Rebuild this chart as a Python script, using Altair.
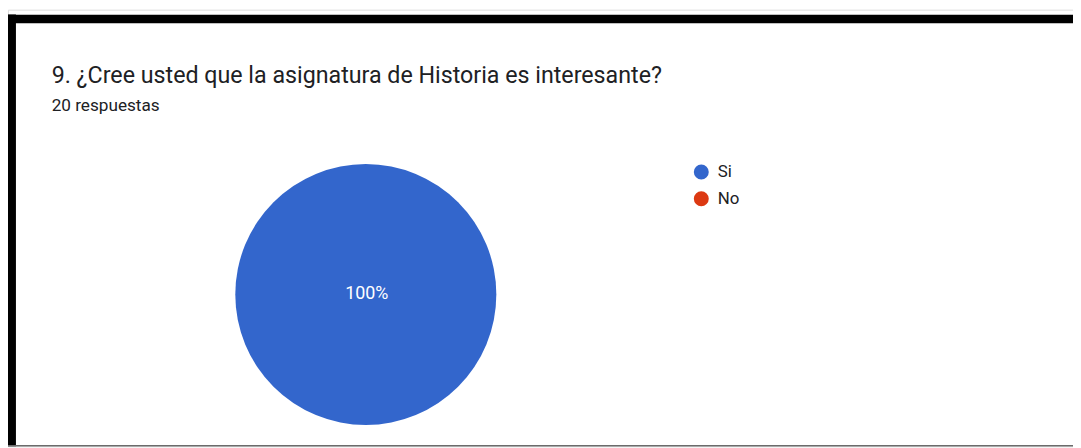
import altair as alt
import pandas as pd

categories = ["Si", "No"]
counts = [20, 0]
colors = ["#3366CC", "#DC3912"]
title_text = "9. ¿Cree usted que la asignatura de Historia es interesante?"
subtitle_text = "20 respuestas"

W, H = 1073, 440
CX, CY, R = 360.5, 287, 131.5

df = pd.DataFrame({"cat": categories, "n": counts})

base = alt.Chart(df)

pie = base.mark_arc(outerRadius=R).encode(
    theta=alt.Theta("n:Q", stack=True),
    color=alt.Color(
        "cat:N",
        scale=alt.Scale(domain=categories, range=colors),
        sort=categories,
        legend=alt.Legend(
            title=None,
            orient="none",
            legendX=690,
            legendY=155,
            symbolType="circle",
            symbolSize=227,
            symbolStrokeWidth=0,
            labelFont="Roboto",
            labelFontSize=17,
            labelColor="#202124",
            labelOffset=8,
            rowPadding=9,
            padding=0,
        ),
    ),
    order=alt.Order("cat:N", sort="descending"),
    x=alt.value(CX),
    y=alt.value(CY),
)

label = base.transform_joinaggregate(total="sum(n)").transform_calculate(
    pct="format(datum.n / datum.total, '.0%')"
).transform_filter("datum.n > 0").mark_text(
    font="Roboto", fontSize=18, color="white", baseline="middle", align="center"
).encode(text="pct:N", x=alt.value(CX + 1), y=alt.value(CY))

frame_df = pd.DataFrame({"k": [0]})
fbase = alt.Chart(frame_df)
top_band = fbase.mark_rule(color="black", strokeWidth=8.5).encode(
    x=alt.value(0), x2=alt.value(W), y=alt.value(9.5)
)
left_band = fbase.mark_rule(color="black", strokeWidth=8).encode(
    x=alt.value(4), y=alt.value(5), y2=alt.value(H)
)
bottom_line = fbase.mark_rule(color="#6b6b6b", strokeWidth=1.5).encode(
    x=alt.value(0), x2=alt.value(W), y=alt.value(439.5)
)

title = fbase.mark_text(
    font="Roboto", fontSize=23.4, color="#202124", align="left", baseline="alphabetic"
).encode(text=alt.value(title_text), x=alt.value(44), y=alt.value(74))
subtitle = fbase.mark_text(
    font="Roboto", fontSize=17.3, color="#202124", align="left", baseline="alphabetic"
).encode(text=alt.value(subtitle_text), x=alt.value(44), y=alt.value(102))

chart = alt.layer(pie, label, top_band, left_band, bottom_line, title, subtitle).properties(
    width=W, height=H, autosize=alt.AutoSizeParams(type="none"), padding=0
).configure_view(stroke=None).configure(background="white")

chart.save("out.html", embed_options={"renderer": "svg", "actions": False})
